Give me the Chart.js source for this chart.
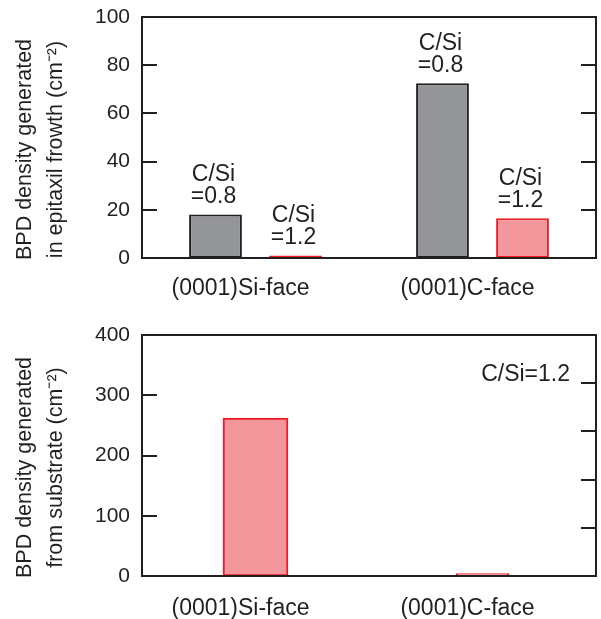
<!DOCTYPE html>
<html>
<head>
<meta charset="utf-8">
<script src="https://cdn.jsdelivr.net/npm/chart.js@4"></script>
<style>
  body { margin: 0; background: #fff; }
  canvas { display: block; }
</style>
</head>
<body>
<canvas id="epiChart" width="601" height="310"></canvas>
<canvas id="subChart" width="601" height="309"></canvas>
<script>
// 数据
const categories = ['(0001)Si-face', '(0001)C-face'];
const epiRatio08 = [18, 72.5];      // C/Si=0.8
const epiRatio12 = [1, 16.5];       // C/Si=1.2
const substrateSi = [262, null];
const substrateC = [null, 4];
const epiTicks = [0, 20, 40, 60, 80, 100];
const subTicks = [0, 100, 200, 300, 400];
const epiRightTicks = [20, 40, 60, 80];
const subRightTicks = [80, 160, 240, 320];
const ratioLabels = [['C/Si', '=0.8'], ['C/Si', '=1.2']];

const INK = '#231f20';
const GRAY = '#939598';
const PINK = '#f4979c';
const RED = '#ed1c24';
const FONT = "'Liberation Sans', Arial, sans-serif";

// 边框、内侧刻度、纵轴标题
const boxPlugin = {
    id: 'box',
    afterDraw(chart, args, opts) {
        const { ctx, chartArea: a, scales: { y } } = chart;
        ctx.save();
        ctx.strokeStyle = INK;
        ctx.lineWidth = 2;
        ctx.strokeRect(a.left, a.top, a.right - a.left, a.bottom - a.top);
        ctx.beginPath();
        y.ticks.forEach(t => {
            const py = Math.round(y.getPixelForValue(t.value));
            ctx.moveTo(a.left, py);
            ctx.lineTo(a.left + 15, py);
        });
        opts.rightTicks.forEach(v => {
            const py = Math.round(y.getPixelForValue(v));
            ctx.moveTo(a.right - 15, py);
            ctx.lineTo(a.right, py);
        });
        ctx.stroke();

        // 纵轴标题
        ctx.fillStyle = INK;
        ctx.font = '21.5px ' + FONT;
        ctx.textAlign = 'center';
        ctx.textBaseline = 'alphabetic';
        const cy = (a.top + a.bottom) / 2 + 12;
        ctx.translate(0, cy);
        ctx.rotate(-Math.PI / 2);
        ctx.fillText(opts.title[0], 0, 31);
        ctx.fillText(opts.title[1], 0, 62);
        ctx.restore();

        if (opts.note) {
            ctx.save();
            ctx.fillStyle = INK;
            ctx.font = '23px ' + FONT;
            ctx.textAlign = 'right';
            ctx.textBaseline = 'middle';
            ctx.fillText(opts.note, a.right - 26, a.top + 40);
            ctx.restore();
        }
    }
};

// 柱子上方的 C/Si 标注
const ratioPlugin = {
    id: 'ratio',
    afterDatasetsDraw(chart) {
        const ctx = chart.ctx;
        ctx.save();
        ctx.fillStyle = INK;
        ctx.font = '23px ' + FONT;
        ctx.textAlign = 'center';
        ctx.textBaseline = 'middle';
        chart.data.datasets.forEach((ds, i) => {
            chart.getDatasetMeta(i).data.forEach(bar => {
                ctx.fillText(ratioLabels[i][0], bar.x - 2, bar.y - 40);
                ctx.fillText(ratioLabels[i][1], bar.x - 2, bar.y - 18);
            });
        });
        ctx.restore();
    }
};

function xScale(labelPad, height) {
    return {
        grid: { display: false, drawTicks: false },
        border: { display: false },
        ticks: { color: INK, font: { family: FONT, size: 23 }, padding: labelPad, labelOffset: -15 },
        afterFit: s => { s.height = height; }
    };
}

function yScale(max, ticks) {
    return {
        min: 0,
        max: max,
        afterBuildTicks: s => { s.ticks = ticks.map(v => ({ value: v })); },
        grid: { display: false, drawTicks: false },
        border: { display: false },
        ticks: { color: INK, font: { family: FONT, size: 21 }, padding: 12 },
        afterFit: s => {
            s.width = 142;
            s.paddingTop = 0;
            s.paddingBottom = 0;
        }
    };
}

new Chart(document.getElementById('epiChart'), {
    type: 'bar',
    data: {
        labels: categories,
        datasets: [{
            data: epiRatio08,
            backgroundColor: GRAY,
            borderColor: INK,
            borderWidth: 2,
            borderSkipped: false,
            barPercentage: 0.66,
            categoryPercentage: 0.705
        }, {
            data: epiRatio12,
            backgroundColor: PINK,
            borderColor: RED,
            borderWidth: 2,
            borderSkipped: false,
            barPercentage: 0.66,
            categoryPercentage: 0.705
        }]
    },
    options: {
        responsive: false,
        animation: false,
        layout: { padding: { top: 17, right: 5, left: 0, bottom: 0 } },
        plugins: {
            legend: { display: false },
            tooltip: { enabled: false },
            box: {
                rightTicks: epiRightTicks,
                title: ['BPD density generated', 'in epitaxil frowth (cm⁻²)']
            }
        },
        scales: { x: xScale(17, 52), y: yScale(100, epiTicks) }
    },
    plugins: [boxPlugin, ratioPlugin]
});

new Chart(document.getElementById('subChart'), {
    type: 'bar',
    data: {
        labels: categories,
        datasets: [{
            data: substrateSi,
            backgroundColor: PINK,
            borderColor: RED,
            borderWidth: 2,
            borderSkipped: false,
            grouped: false,
            barThickness: 65
        }, {
            data: substrateC,
            backgroundColor: PINK,
            borderColor: RED,
            borderWidth: 2,
            borderSkipped: false,
            grouped: false,
            barThickness: 53
        }]
    },
    options: {
        responsive: false,
        animation: false,
        layout: { padding: { top: 25, right: 5, left: 0, bottom: 0 } },
        plugins: {
            legend: { display: false },
            tooltip: { enabled: false },
            box: {
                rightTicks: subRightTicks,
                title: ['BPD density generated', 'from substrate (cm⁻²)'],
                note: 'C/Si=1.2'
            }
        },
        scales: { x: xScale(19, 43), y: yScale(400, subTicks) }
    },
    plugins: [boxPlugin]
});
</script>
</body>
</html>
